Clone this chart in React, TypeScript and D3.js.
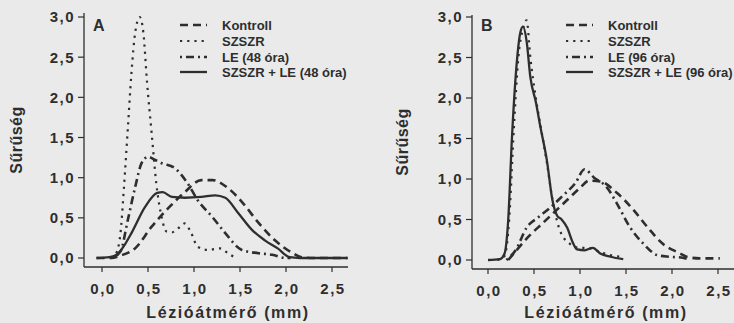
import React from 'react';
import * as d3 from 'd3';

type Pt = [number, number];

// Panel A: 48 h
const kontrollA: Pt[] = [[-0.06, 0], [0.1, 0], [0.2, 0.03], [0.36, 0.12], [0.54, 0.39], [0.72, 0.62], [0.9, 0.82], [1.08, 0.97], [1.2, 0.97], [1.37, 0.87], [1.52, 0.7], [1.7, 0.44], [1.88, 0.22], [2.06, 0.07], [2.17, 0.01], [2.3, 0], [2.67, 0]];
const szszrA: Pt[] = [[0.1, 0], [0.15, 0.05], [0.2, 0.3], [0.24, 0.9], [0.28, 1.6], [0.32, 2.3], [0.36, 2.8], [0.41, 3.0], [0.45, 2.8], [0.49, 2.18], [0.54, 1.55], [0.59, 0.93], [0.65, 0.5], [0.7, 0.33], [0.76, 0.32], [0.84, 0.38], [0.9, 0.43], [0.97, 0.31], [1.04, 0.14], [1.15, 0.1], [1.28, 0.12], [1.37, 0.06], [1.45, 0]];
const leA: Pt[] = [[0.1, 0], [0.2, 0.08], [0.28, 0.47], [0.36, 0.88], [0.43, 1.18], [0.5, 1.26], [0.58, 1.22], [0.65, 1.18], [0.79, 1.12], [0.93, 0.93], [1.04, 0.72], [1.2, 0.51], [1.34, 0.31], [1.52, 0.1], [1.7, 0.06], [1.85, 0.04], [2.0, 0], [2.05, 0]];
const kombA: Pt[] = [[-0.06, 0], [0.08, 0.01], [0.17, 0.05], [0.25, 0.17], [0.32, 0.31], [0.47, 0.64], [0.6, 0.81], [0.66, 0.82], [0.76, 0.76], [0.9, 0.75], [1.08, 0.76], [1.23, 0.78], [1.34, 0.75], [1.48, 0.56], [1.63, 0.35], [1.77, 0.22], [1.91, 0.12], [2.04, 0.01], [2.15, 0], [2.67, 0]];

// Panel B: 96 h
const kontrollB: Pt[] = [[0.22, 0], [0.31, 0.12], [0.45, 0.3], [0.6, 0.46], [0.73, 0.6], [0.86, 0.74], [1.0, 0.89], [1.1, 0.98], [1.22, 0.97], [1.4, 0.83], [1.58, 0.62], [1.73, 0.41], [1.9, 0.2], [2.09, 0.08], [2.16, 0.04], [2.3, 0.02], [2.52, 0.02]];
const szszrB: Pt[] = [[0.1, 0], [0.18, 0.05], [0.23, 0.5], [0.28, 1.6], [0.33, 2.5], [0.38, 2.85], [0.42, 2.96], [0.46, 2.5], [0.52, 2.0], [0.58, 1.6], [0.64, 1.2], [0.7, 0.75], [0.78, 0.37], [0.89, 0.2], [1.0, 0.15], [1.07, 0.15], [1.22, 0.1], [1.33, 0.06], [1.45, 0.04]];
const leB: Pt[] = [[0.2, 0], [0.3, 0.12], [0.42, 0.4], [0.55, 0.53], [0.68, 0.65], [0.8, 0.78], [0.95, 0.95], [1.05, 1.12], [1.15, 1.02], [1.29, 0.9], [1.4, 0.7], [1.54, 0.41], [1.69, 0.2], [1.84, 0.06], [1.97, 0.04], [2.1, 0.03], [2.2, 0]];
const kombB: Pt[] = [[0, 0], [0.13, 0.01], [0.18, 0.08], [0.22, 0.5], [0.26, 1.5], [0.31, 2.4], [0.35, 2.8], [0.38, 2.88], [0.42, 2.7], [0.46, 2.26], [0.52, 1.95], [0.57, 1.64], [0.64, 1.23], [0.7, 0.74], [0.75, 0.55], [0.8, 0.5], [0.86, 0.4], [0.92, 0.22], [0.97, 0.13], [1.05, 0.12], [1.14, 0.15], [1.22, 0.08], [1.33, 0.04], [1.47, 0.01]];

const legendA = ['Kontroll', 'SZSZR', 'LE (48 óra)', 'SZSZR + LE (48 óra)'];
const legendB = ['Kontroll', 'SZSZR', 'LE (96 óra)', 'SZSZR + LE (96 óra)'];

const xTicks = [0, 0.5, 1, 1.5, 2, 2.5];
const xTickLabels = ['0,0', '0,5', '1,0', '1,5', '2,0', '2,5'];
const yTicks = [0, 0.5, 1, 1.5, 2, 2.5, 3];
const yTickLabels = ['0,0', '0,5', '1,0', '1,5', '2,0', '2,5', '3,0'];

const INK = '#2e2e2e';
const FONT = '"Liberation Sans", Arial, sans-serif';

// line styles: dashed, dotted, dash-dot, solid
const styles = [
  { dash: '8 5', width: 2.6 },
  { dash: '2.2 5', width: 2.2 },
  { dash: '2 4 8 4', width: 2.6 },
  { dash: undefined, width: 2.3 },
];

type PanelProps = {
  label: string;
  series: Pt[][];
  legend: string[];
  xRange: [number, number];
  yRange: [number, number];
  axisX: number;
  axisY: number;
  axisRight: number;
  axisTop: number;
  legendX: number;
  titleX: number;
  yTitleX: number;
};

const Panel = (p: PanelProps) => {
  const x = d3.scaleLinear().domain([0, 2.5]).range(p.xRange);
  const y = d3.scaleLinear().domain([0, 3]).range(p.yRange);
  const line = d3.line<Pt>()
    .x(d => x(d[0]))
    .y(d => y(d[1]))
    .curve(d3.curveMonotoneX);
  const legendRows = [25, 41, 57, 72];

  return (
    <g>
      {/* axes */}
      <line x1={p.axisX} x2={p.axisX} y1={p.axisTop} y2={p.axisY} stroke={INK} strokeWidth={1.3} />
      <line x1={p.axisX} x2={p.axisRight} y1={p.axisY} y2={p.axisY} stroke={INK} strokeWidth={1.3} />
      {yTicks.map((t, i) => (
        <g key={`y-${t}`}>
          <line x1={p.axisX - 6} x2={p.axisX} y1={y(t)} y2={y(t)} stroke={INK} strokeWidth={1.2} />
          <text x={p.axisX - 9} y={y(t)} dy="0.36em" textAnchor="end" fontSize={15} fontWeight="bold" letterSpacing={1.5} fill={INK}>
            {yTickLabels[i]}
          </text>
        </g>
      ))}
      {xTicks.map((t, i) => (
        <g key={`x-${t}`}>
          <line x1={x(t)} x2={x(t)} y1={p.axisY} y2={p.axisY + 5} stroke={INK} strokeWidth={1.2} />
          <text x={x(t) + 1} y={p.axisY + 27} textAnchor="middle" fontSize={15} fontWeight="bold" letterSpacing={1.5} fill={INK}>
            {xTickLabels[i]}
          </text>
        </g>
      ))}
      <text x={p.titleX} y={318} textAnchor="middle" fontSize={16} fontWeight="bold" letterSpacing={1.6} fill={INK}>
        Lézióátmérő (mm)
      </text>
      <text transform={`translate(${p.yTitleX}, ${(p.axisTop + p.axisY) / 2}) rotate(-90)`} textAnchor="middle" fontSize={16} fontWeight="bold" letterSpacing={0.5} fill={INK}>
        Sűrűség
      </text>
      <text x={p.axisX + 9} y={31} fontSize={16} fontWeight="bold" fill={INK}>{p.label}</text>

      {/* curves */}
      {p.series.map((s, i) => (
        <path key={`s-${i}`} d={line(s) ?? ''} fill="none" stroke={INK} strokeWidth={styles[i].width} strokeDasharray={styles[i].dash} strokeLinejoin="round" />
      ))}

      {/* legend */}
      {p.legend.map((name, i) => (
        <g key={name} transform={`translate(${p.legendX}, ${legendRows[i]})`}>
          <line x1={0} x2={27} y1={0} y2={0} stroke={INK} strokeWidth={styles[i].width} strokeDasharray={styles[i].dash} />
          <text x={42} y={0} dy="0.35em" fontSize={13} fontWeight="bold" fill={INK}>{name}</text>
        </g>
      ))}
    </g>
  );
};

const App = () => (
  <svg width={734} height={323} style={{ position: 'absolute', left: 0, top: 0, fontFamily: FONT }}>
    <rect width={734} height={323} fill="#eaeaea" />
    <Panel
      label="A"
      series={[kontrollA, szszrA, leA, kombA]}
      legend={legendA}
      xRange={[102, 332]}
      yRange={[258, 17]}
      axisX={84}
      axisY={267}
      axisRight={348}
      axisTop={13}
      legendX={180}
      titleX={228}
      yTitleX={22}
    />
    <Panel
      label="B"
      series={[kontrollB, szszrB, leB, kombB]}
      legend={legendB}
      xRange={[488, 718]}
      yRange={[260, 17]}
      axisX={472}
      axisY={269}
      axisRight={734}
      axisTop={15}
      legendX={566}
      titleX={606}
      yTitleX={408}
    />
  </svg>
);

export default App;
